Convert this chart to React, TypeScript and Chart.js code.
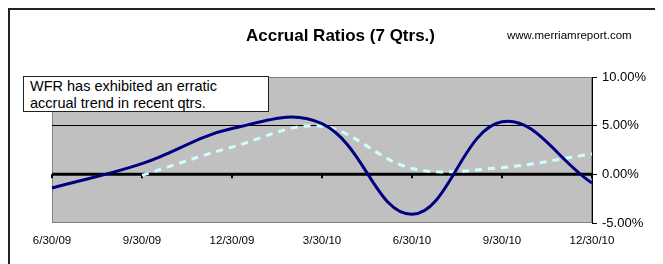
import React, { useEffect, useRef } from "react";
import { Chart, registerables } from "chart.js";

Chart.register(...registerables);

const categories = ["6/30/09", "9/30/09", "12/30/09", "3/30/10", "6/30/10", "9/30/10", "12/30/10"];
const accrualSeries = [-1.4, 1.1, 4.7, 5.2, -4.1, 5.4, -0.9];
const secondarySeries: (number | null)[] = [null, -0.1, 2.8, 4.95, 0.6, 0.7, 2.1];
const yTicks = [-5, 0, 5, 10];
const titleText = "Accrual Ratios (7 Qtrs.)";
const sourceText = "www.merriamreport.com";
const noteLines = ["WFR has exhibited an erratic", "accrual trend in recent qtrs."];

const FONT = 'Arial, "Liberation Sans", sans-serif';

const plotDecor = {
  id: "plotDecor",
  beforeDraw(chart: any) {
    const { ctx, chartArea: a } = chart;
    ctx.save();
    ctx.fillStyle = "#C0C0C0";
    ctx.fillRect(a.left, a.top, a.right - a.left, a.bottom - a.top);
    ctx.strokeStyle = "#808080";
    ctx.lineWidth = 1;
    ctx.strokeRect(a.left + 0.5, a.top + 0.5, a.right - a.left - 1, a.bottom - a.top - 1);
    ctx.restore();
  },
  beforeDatasetsDraw(chart: any) {
    const { ctx, chartArea: a, scales } = chart;
    const y0 = scales.y.getPixelForValue(0);
    ctx.save();
    ctx.strokeStyle = "#000";
    ctx.lineWidth = 3;
    ctx.beginPath();
    ctx.moveTo(a.left, y0);
    ctx.lineTo(a.right, y0);
    ctx.stroke();
    ctx.lineWidth = 2;
    categories.forEach((_, i) => {
      const x = scales.x.getPixelForValue(i);
      ctx.beginPath();
      ctx.moveTo(x, y0);
      ctx.lineTo(x, y0 + 4);
      ctx.stroke();
    });
    ctx.restore();
  },
};

function AccrualChart() {
  const ref = useRef<HTMLCanvasElement | null>(null);
  useEffect(() => {
    if (!ref.current) return;
    const chart = new Chart(ref.current, {
      type: "line",
      data: {
        labels: categories,
        datasets: [
          {
            data: accrualSeries,
            borderColor: "#000080",
            borderWidth: 3,
            pointRadius: 0,
            tension: 0.4,
            fill: false,
          },
          {
            data: secondarySeries,
            borderColor: "#CCFFFF",
            borderWidth: 3,
            borderDash: [7, 6],
            pointRadius: 0,
            tension: 0.35,
            fill: false,
          },
        ],
      },
      options: {
        responsive: false,
        animation: false,
        devicePixelRatio: 1,
        layout: { padding: { left: 44, top: 69, right: 0, bottom: 0 } },
        plugins: { legend: { display: false }, tooltip: { enabled: false }, title: { display: false } },
        scales: {
          x: {
            type: "category",
            offset: false,
            grid: { display: false, drawTicks: false },
            border: { display: false },
            ticks: { color: "#000", font: { family: FONT, size: 11.5 }, padding: 11, maxRotation: 0, autoSkip: false },
            afterFit(scale: any) {
              scale.height = 41;
            },
          },
          y: {
            position: "right",
            min: -5,
            max: 10,
            afterBuildTicks(scale: any) {
              scale.ticks = yTicks.map((v) => ({ value: v }));
            },
            grid: {
              color: (c: any) => (c.tick && c.tick.value === 5 ? "#000" : "rgba(0,0,0,0)"),
              tickColor: "#000",
              tickLength: 5,
              drawTicks: true,
              lineWidth: 1,
            },
            border: { display: true, color: "#000", width: 1 },
            ticks: {
              color: "#000",
              font: { family: FONT, size: 13 },
              padding: 5,
              callback: (v: any) => Number(v).toFixed(2) + "%",
            },
            afterFit(scale: any) {
              scale.width = 71;
            },
          },
        },
      },
      plugins: [plotDecor],
    });
    return () => chart.destroy();
  }, []);

  return (
    <div style={{ position: "relative", width: 655, height: 256 }}>
      <div
        style={{
          position: "absolute",
          left: 0,
          top: 0,
          width: 655,
          height: 256,
          boxSizing: "border-box",
          borderLeft: "2px solid #222",
          borderTop: "2px solid #222",
        }}
      />
      <canvas ref={ref} width={655} height={256} style={{ position: "absolute", left: 0, top: 0 }} />
      <div
        style={{
          position: "absolute",
          left: 332.5,
          top: 18.5,
          transform: "translateX(-50%)",
          whiteSpace: "nowrap",
          fontFamily: FONT,
          fontWeight: "bold",
          fontSize: 17,
          lineHeight: "17px",
          color: "#000",
        }}
      >
        {titleText}
      </div>
      <div
        style={{
          position: "absolute",
          left: 499,
          top: 21.5,
          whiteSpace: "nowrap",
          fontFamily: FONT,
          fontSize: 11.5,
          lineHeight: "11.5px",
          color: "#000",
        }}
      >
        {sourceText}
      </div>
      <div
        style={{
          position: "absolute",
          left: 15,
          top: 67.5,
          width: 246,
          height: 36,
          boxSizing: "border-box",
          border: "1px solid #222",
          background: "#fff",
          paddingLeft: 6,
          paddingTop: 1,
          fontFamily: FONT,
          fontSize: 14.5,
          lineHeight: "17px",
          color: "#000",
          whiteSpace: "nowrap",
          overflow: "hidden",
        }}
      >
        {noteLines.map((l, i) => (
          <div key={i}>{l}</div>
        ))}
      </div>
    </div>
  );
}

export default function App() {
  return <AccrualChart />;
}
